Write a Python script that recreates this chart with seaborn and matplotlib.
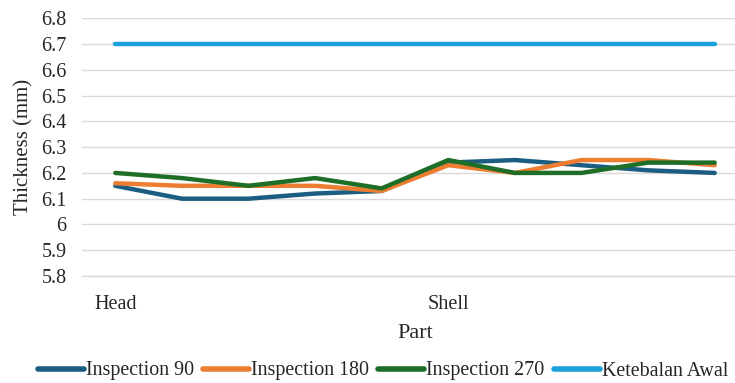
import numpy as np
import pandas as pd
import matplotlib
matplotlib.use("Agg")
import matplotlib.pyplot as plt
import seaborn as sns

# ---- data ----
part_labels = ["Head", "", "", "", "", "Shell", "", "", "", ""]
insp_90 = [6.15, 6.10, 6.10, 6.12, 6.13, 6.24, 6.25, 6.23, 6.21, 6.20]
insp_180 = [6.16, 6.15, 6.15, 6.15, 6.13, 6.23, 6.20, 6.25, 6.25, 6.23]
insp_270 = [6.20, 6.18, 6.15, 6.18, 6.14, 6.25, 6.20, 6.20, 6.24, 6.24]
ketebalan_awal = [6.70] * 10
series_names = ["Inspection 90", "Inspection 180", "Inspection 270", "Ketebalan Awal"]
y_ticks = [5.8, 5.9, 6.0, 6.1, 6.2, 6.3, 6.4, 6.5, 6.6, 6.7, 6.8]
y_tick_labels = ["5.8", "5.9", "6", "6.1", "6.2", "6.3", "6.4", "6.5", "6.6", "6.7", "6.8"]

colors = ["#1b5e82", "#ed7d31", "#1f6e27", "#1ba1da"]
text_color = "#262626"

pos = np.arange(len(part_labels))
frames = []
for name, vals in zip(series_names, [insp_90, insp_180, insp_270, ketebalan_awal]):
    frames.append(pd.DataFrame({"pos": pos, "value": vals, "series": name}))
df = pd.concat(frames, ignore_index=True)

sns.set_theme(style="white")
plt.rcParams["font.family"] = ["Liberation Serif", "DejaVu Serif"]

fig = plt.figure(figsize=(7.35, 3.83), dpi=100)
ax = fig.add_axes([82 / 735, 1 - 276 / 383, (748 - 82) / 735, (276 - 18.3) / 383])

sns.lineplot(data=df, x="pos", y="value", hue="series", hue_order=series_names,
             palette=colors, linewidth=3.2, ax=ax, legend=True,
             solid_capstyle="round", sort=False)

ax.set_xlim(-0.5, len(part_labels) - 0.5)
ax.set_ylim(5.8, 6.8)
ax.set_yticks(y_ticks)
ax.set_yticklabels(y_tick_labels)
ax.set_xticks(pos)
ax.set_xticklabels(part_labels)
ax.grid(axis="y", color="#d9d9d9", linewidth=1.0)
ax.grid(axis="x", visible=False)
ax.set_axisbelow(True)
for s in ax.spines.values():
    s.set_visible(False)
ax.spines["bottom"].set_visible(True)
ax.spines["bottom"].set_color("#d9d9d9")
ax.spines["bottom"].set_linewidth(1.0)
ax.tick_params(axis="both", length=0, labelsize=14.5, colors=text_color)
ax.tick_params(axis="y", pad=11)
ax.tick_params(axis="x", pad=14)
ax.set_xlabel("Part", fontsize=16, color=text_color, labelpad=7)
ax.set_ylabel("Thickness (mm)", fontsize=15, color=text_color, labelpad=6)

handles, labels = ax.get_legend_handles_labels()
ax.get_legend().remove()
for h in handles:
    h.set_linewidth(4)
fig.legend(handles, labels, loc="center", bbox_to_anchor=(383 / 735, 1 - 371 / 383),
           ncol=4, frameon=False, fontsize=14.4, handlelength=2.3,
           handletextpad=0.1, columnspacing=0.45, labelcolor=text_color)

fig.savefig("out.png", dpi=100)
